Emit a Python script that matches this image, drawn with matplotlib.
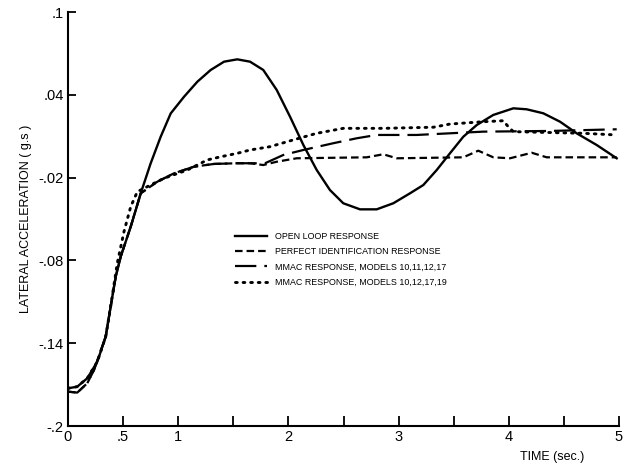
import numpy as np
import matplotlib
matplotlib.use("Agg")
import matplotlib.pyplot as plt

plt.rcParams['font.family'] = ['Liberation Sans', 'DejaVu Sans']

# ---- data ----
open_t = [0.0, 0.084, 0.175, 0.266, 0.342, 0.387, 0.433, 0.478, 0.569, 0.660, 0.750, 0.841,
          0.932, 1.053, 1.174, 1.295, 1.416, 1.536, 1.652, 1.772, 1.894, 2.015, 2.136,
          2.257, 2.377, 2.498, 2.650, 2.801, 2.952, 3.103, 3.224, 3.346, 3.466, 3.587,
          3.709, 3.859, 4.041, 4.162, 4.313, 4.465, 4.616, 4.798, 4.979]
open_y = [-0.1727, -0.1715, -0.1654, -0.1534, -0.1353, -0.1135, -0.0918, -0.0773, -0.0556, -0.0314,
          -0.0097, 0.0096, 0.0265, 0.0386, 0.0495, 0.0580, 0.0640, 0.0657, 0.0640, 0.0580, 0.0435,
          0.0241, 0.0036, -0.0145, -0.0290, -0.0386, -0.0430, -0.0430, -0.0386, -0.0314, -0.0254,
          -0.0145, -0.0024, 0.0096, 0.0181, 0.0254, 0.0302, 0.0295, 0.0266, 0.0205, 0.0121,
          0.0036, -0.0060]

perf_t = [0.0, 0.084, 0.175, 0.236, 0.342, 0.387, 0.433, 0.478, 0.569, 0.660, 0.810, 0.962,
          1.143, 1.325, 1.536, 1.652, 1.772, 1.894, 2.075, 2.711, 2.861, 2.983, 3.587,
          3.723, 3.859, 4.011, 4.208, 4.344, 4.979]
perf_y = [-0.1751, -0.1758, -0.1690, -0.1594, -0.1353, -0.1135, -0.0918, -0.0773, -0.0556, -0.0314,
          -0.0230, -0.0169, -0.0121, -0.0101, -0.0096, -0.0096, -0.0109, -0.0085, -0.0060, -0.0053,
          -0.0031, -0.0060, -0.0053, -0.0005, -0.0053, -0.0060, -0.0020, -0.0053, -0.0053]

mmac1_t = [0.0, 0.084, 0.175, 0.236, 0.342, 0.387, 0.433, 0.478, 0.569, 0.660, 0.810, 0.962,
           1.143, 1.325, 1.536, 1.652, 1.788, 1.954, 2.135, 2.407, 2.620, 2.801, 3.164,
           3.768, 4.374, 4.979]
mmac1_y = [-0.1751, -0.1758, -0.1690, -0.1594, -0.1353, -0.1135, -0.0918, -0.0773, -0.0556, -0.0314,
           -0.0230, -0.0169, -0.0121, -0.0101, -0.0096, -0.0096, -0.0096, -0.0036, 0.0000, 0.0049,
           0.0085, 0.0109, 0.0109, 0.0133, 0.0138, 0.0150]

mmac2_t = [0.0, 0.084, 0.175, 0.266, 0.342, 0.387, 0.447, 0.508, 0.569, 0.629, 0.871, 1.083,
           1.264, 1.386, 1.536, 1.652, 1.833, 2.044, 2.257, 2.498, 2.861, 3.315, 3.466,
           3.768, 3.950, 3.995, 4.041, 4.676, 4.979]
mmac2_y = [-0.1727, -0.1715, -0.1654, -0.1534, -0.1353, -0.1135, -0.0821, -0.0592, -0.0411, -0.0302,
           -0.0205, -0.0145, -0.0072, -0.0049, -0.0024, 0.0000, 0.0024, 0.0073, 0.0121, 0.0157,
           0.0157, 0.0165, 0.0188, 0.0205, 0.0212, 0.0169, 0.0133, 0.0121, 0.0109]

labels = ["OPEN LOOP RESPONSE",
          "PERFECT IDENTIFICATION RESPONSE",
          "MMAC RESPONSE, MODELS 10,11,12,17",
          "MMAC RESPONSE, MODELS 10,12,17,19"]

xticks = [0, 0.5, 1, 1.5, 2, 2.5, 3, 3.5, 4, 4.5, 5]
xticklabels = ["0", ".5", "1", "", "2", "", "3", "", "4", "", "5"]
yticks = [-0.2, -0.14, -0.08, -0.02, 0.04, 0.1]
yticklabels = ["-.2", "-.14", "-.08", "-.02", ".04", ".1"]

# ---- figure ----
fig = plt.figure(figsize=(6.26, 4.66), dpi=100)
ax = fig.add_axes([68/626, 1-426/466, (619-68)/626, (426-12)/466])

ax.plot(open_t, open_y, color='black', lw=1.7, ls='-', label=labels[0])
ax.plot(perf_t, perf_y, color='black', lw=1.6, ls=(0, (3.4, 1.8)), label=labels[1])
ax.plot(mmac1_t, mmac1_y, color='black', lw=1.6, ls=(0, (9.6, 3.6)), label=labels[2])
ax.plot(mmac2_t, mmac2_y, color='black', lw=2.1, ls=(0, (0.6, 2.0)),
        dash_capstyle='round', label=labels[3])

ax.set_xlim(0, 5)
ax.set_ylim(-0.2, 0.1)
for s in ['top', 'right']:
    ax.spines[s].set_visible(False)
for s in ['left', 'bottom']:
    ax.spines[s].set_linewidth(1.5)

ax.set_xticks(xticks)
ax.set_xticklabels(xticklabels)
ax.set_yticks(yticks)
ax.set_yticklabels(yticklabels)
ax.tick_params(axis='x', direction='in', length=7, width=1.3, labelsize=10.5, pad=3)
ax.tick_params(axis='y', direction='in', length=6, width=1.3, labelsize=10.5, pad=3)

ax.set_ylabel("LATERAL ACCELERATION ( g.s )", fontsize=9, labelpad=5)
fig.text(552/626, 1-457/466, "TIME (sec.)", fontsize=9, ha='center', va='center')

leg = ax.legend(loc='upper left', bbox_to_anchor=((235-68)/551, (426-232)/414),
                frameon=False, fontsize=6.4, handlelength=3.6, handletextpad=0.9,
                labelspacing=0.7, borderpad=0, borderaxespad=0)

fig.savefig("out.png", dpi=100)
